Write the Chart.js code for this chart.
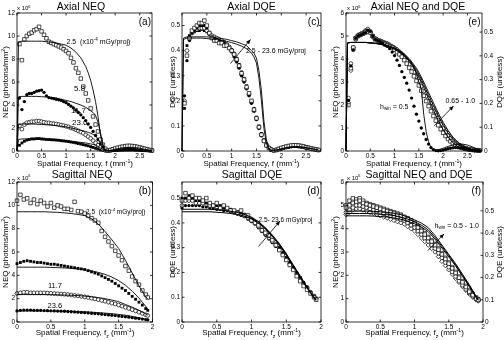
<!DOCTYPE html>
<html><head><meta charset="utf-8">
<style>
html,body{margin:0;padding:0;background:#fff;}
#wrap{position:relative;width:504px;height:340px;overflow:hidden;background:#fff;}
#wrap canvas{position:absolute;left:0;top:0;}
</style>
<script src="https://cdn.jsdelivr.net/npm/chart.js@4.4.0/dist/chart.umd.min.js"></script>
</head><body>
<div id="wrap">
<canvas id="pa" width="504" height="340"></canvas>
<canvas id="pc" width="504" height="340"></canvas>
<canvas id="pe" width="504" height="340"></canvas>
<canvas id="pb" width="504" height="340"></canvas>
<canvas id="pd" width="504" height="340"></canvas>
<canvas id="pf" width="504" height="340"></canvas>
</div>
<script>
// ---------- DATA ----------
// Axial frequencies for measured points (mm^-1)
const fAx = [0.05,0.1,0.15,0.2,0.25,0.3,0.35,0.4,0.45,0.5,0.55,0.6,0.65,0.7,0.75,0.8,0.85,0.9,0.95,1,1.05,1.1,1.15,1.2,1.25,1.3,1.35,1.4,1.45,1.5,1.55,1.6,1.65,1.7,1.75,1.8,1.85,1.9,1.95,2,2.05,2.1,2.15,2.2,2.25,2.3,2.35,2.4,2.45,2.5,2.55,2.6,2.65,2.7,2.75];
// Axial frequencies for theory curves
const fAxLine = [0,0.03,0.1,0.2,0.3,0.4,0.5,0.6,0.7,0.8,0.9,1,1.1,1.2,1.3,1.4,1.45,1.5,1.55,1.6,1.65,1.7,1.75,1.8,1.9,2,2.1,2.2,2.3,2.4,2.5,2.6,2.7,2.75];
// Sagittal frequencies
const fSag = [0,0.05,0.1,0.15,0.2,0.25,0.3,0.35,0.4,0.45,0.5,0.55,0.6,0.65,0.7,0.75,0.8,0.85,0.9,0.95,1,1.05,1.1,1.15,1.2,1.25,1.3,1.35,1.4,1.45,1.5,1.55,1.6,1.65,1.7,1.75,1.8,1.85,1.9,1.93];
const fSagLine = [0,0.1,0.2,0.3,0.4,0.5,0.6,0.7,0.8,0.9,1,1.1,1.2,1.3,1.4,1.5,1.6,1.7,1.8,1.9,1.93];

const doseLabels = ['2.5','5.8','11.7','23.6'];
const hwinLabels = ['0.5','0.65','0.8','1.0'];

// (a) Axial NEQ (x10^6 photons/mm^2)
const aNEQ25 = [9.3,7.9,9.7,10.0,10.2,10.3,10.5,10.6,10.8,10.4, 10.1,9.8,9.5,9.4,9.3,9.2,9.1,9.0,8.85,8.7, 8.5,8.1,7.7,7.2,6.8,6.3,5.6,5.0,4.4,3.7, 3.0,2.3,1.7,1.0,0.55,0.2,0.05,0.08,0.15,0.22, 0.28,0.34,0.38,0.42,0.45,0.45,0.43,0.4,0.36,0.31, 0.26,0.2,0.14,0.09,0.05];
const aNEQ58 = [4.6,3.6,4.3,4.9,5.0,5.0,5.1,5.2,5.25,5.3, 5.1,4.8,4.65,4.6,4.55,4.5,4.45,4.4,4.3,4.2, 4.05,3.9,3.75,3.55,3.35,3.15,2.9,2.65,2.35,2.05, 1.7,1.35,1.0,0.65,0.35,0.12,0.03,0.04,0.06,0.08, 0.1,0.12,0.14,0.16,0.17,0.17,0.16,0.15,0.13,0.11, 0.09,0.07,0.05,0.04,0.02];
const aNEQ117 = [2.2,1.9,2.3,2.45,2.5,2.55,2.55,2.6,2.6,2.55, 2.5,2.45,2.45,2.4,2.38,2.35,2.3,2.25,2.2,2.15, 2.1,2.0,1.95,1.85,1.75,1.65,1.55,1.4,1.25,1.1, 0.9,0.7,0.5,0.32,0.15,0.05,0.02,0.06,0.12,0.18, 0.23,0.28,0.32,0.35,0.37,0.37,0.36,0.34,0.31,0.27, 0.22,0.17,0.12,0.08,0.04];
const aNEQ236 = [0.5,0.7,0.85,0.95,1.0,1.05,1.05,1.08,1.08,1.05, 1.03,1.0,1.0,0.98,0.97,0.95,0.93,0.9,0.88,0.85, 0.82,0.78,0.75,0.7,0.65,0.6,0.55,0.5,0.45,0.38, 0.31,0.24,0.17,0.1,0.05,0.02,0.01,0.02,0.03,0.04, 0.05,0.06,0.07,0.08,0.08,0.08,0.08,0.07,0.06,0.05, 0.04,0.03,0.02,0.01,0.01];
const aTh25 = [0,9.5,9.55,9.55,9.55,9.55,9.55,9.5,9.45,9.4, 9.3,9.2,8.95,8.6,8.1,7.35,6.8,6.15,5.3,4.3, 3.0,1.4,0.4,0.05,0.05,0.15,0.25,0.3,0.32,0.3, 0.25,0.15,0.08,0.05];
const aTh58 = [0,4.7,4.75,4.75,4.75,4.75,4.72,4.7,4.65,4.6, 4.5,4.4,4.3,4.15,4.0,3.8,3.65,3.5,3.35,3.1, 2.5,1.6,0.6,0.1,0.03,0.08,0.13,0.16,0.17,0.16, 0.13,0.08,0.04,0.02];
const aTh117 = [0,2.3,2.35,2.35,2.35,2.33,2.3,2.28,2.25,2.2, 2.15,2.1,2.0,1.9,1.8,1.7,1.62,1.55,1.45,1.3, 1.05,0.7,0.3,0.05,0.02,0.05,0.08,0.1,0.1,0.1, 0.08,0.05,0.03,0.01];
const aTh236 = [0,1.0,1.05,1.05,1.05,1.03,1.02,1.0,0.98,0.95, 0.92,0.88,0.84,0.8,0.75,0.7,0.66,0.62,0.57,0.5, 0.4,0.27,0.12,0.02,0.01,0.02,0.04,0.05,0.05,0.05, 0.04,0.02,0.01,0];

// (c) Axial DQE
const cDQE25 = [0.19,0.38,0.45,0.48,0.49,0.5,0.51,0.51,0.52,0.5, 0.47,0.45,0.44,0.44,0.43,0.43,0.42,0.42,0.41,0.4, 0.385,0.365,0.34,0.31,0.285,0.255,0.23,0.2,0.165,0.13, 0.095,0.065,0.04,0.022,0.012,0.005,0.002,0.004,0.008,0.012, 0.015,0.018,0.02,0.022,0.023,0.023,0.022,0.02,0.018,0.015, 0.013,0.01,0.008,0.006,0.004];
const cDQE58 = [0.22,0.36,0.44,0.47,0.48,0.49,0.5,0.5,0.5,0.49, 0.47,0.455,0.45,0.445,0.44,0.435,0.43,0.42,0.41,0.395, 0.375,0.355,0.33,0.3,0.275,0.25,0.22,0.19,0.16,0.125, 0.09,0.06,0.038,0.02,0.01,0.004,0.002,0.004,0.006,0.009, 0.012,0.014,0.016,0.018,0.019,0.019,0.018,0.017,0.015,0.013, 0.011,0.009,0.007,0.005,0.003];
const cDQE117 = [0.2,0.4,0.45,0.47,0.48,0.485,0.49,0.49,0.49,0.48, 0.47,0.46,0.455,0.45,0.445,0.44,0.43,0.425,0.415,0.4, 0.385,0.36,0.335,0.305,0.28,0.25,0.225,0.195,0.16,0.13, 0.095,0.065,0.042,0.025,0.013,0.006,0.003,0.005,0.008,0.011, 0.014,0.016,0.018,0.02,0.021,0.021,0.02,0.019,0.017,0.015, 0.012,0.01,0.008,0.006,0.004];
const cDQE236 = [0.17,0.42,0.46,0.47,0.475,0.48,0.48,0.485,0.48,0.475, 0.465,0.46,0.455,0.45,0.445,0.44,0.435,0.425,0.415,0.405, 0.39,0.37,0.345,0.315,0.29,0.26,0.23,0.2,0.17,0.135, 0.1,0.07,0.045,0.027,0.014,0.006,0.003,0.004,0.007,0.01, 0.012,0.014,0.016,0.017,0.018,0.018,0.017,0.016,0.014,0.012, 0.01,0.008,0.006,0.004,0.003];
const cTh1 = [0,0.45,0.455,0.455,0.455,0.455,0.455,0.453,0.451,0.448, 0.445,0.44,0.435,0.428,0.42,0.4,0.39,0.37,0.32,0.24, 0.12,0.045,0.01,0.003,0.004,0.009,0.014,0.017,0.018,0.017, 0.014,0.01,0.006,0.004];
const cTh2 = [0,0.445,0.45,0.45,0.45,0.45,0.448,0.446,0.444,0.441, 0.437,0.432,0.426,0.418,0.408,0.39,0.375,0.35,0.29,0.2, 0.09,0.03,0.006,0.002,0.004,0.008,0.012,0.015,0.016,0.015, 0.012,0.009,0.005,0.003];

// (e) Axial NEQ vs h_win (x10^6)
const eNEQ05 = [2.2,3.7,4.4,4.9,5.0,5.05,5.1,5.15,5.25,5.2, 5.0,4.85,4.8,4.75,4.7,4.6,4.55,4.45,4.3,4.15, 3.95,3.72,3.45,3.2,2.95,2.65,2.3,1.95,1.6,1.3, 1.0,0.75,0.5,0.3,0.15,0.06,0.02,0.01,0.02,0.04, 0.07,0.1,0.12,0.14,0.15,0.15,0.14,0.12,0.1,0.08, 0.06,0.04,0.03,0.02,0.01];
const eNEQ065 = [2.0,3.6,4.5,4.9,5.0,5.05,5.1,5.15,5.2,5.15, 5.0,4.85,4.8,4.75,4.7,4.65,4.6,4.55,4.5,4.4, 4.3,4.2,4.1,3.95,3.8,3.62,3.45,3.25,3.05,2.85, 2.62,2.4,2.17,1.95,1.73,1.52,1.32,1.12,0.95,0.79, 0.65,0.52,0.42,0.33,0.26,0.2,0.16,0.13,0.1,0.08, 0.06,0.05,0.04,0.03,0.02];
const eNEQ08 = [2.3,3.8,4.4,4.85,5.0,5.05,5.1,5.2,5.3,5.2, 5.0,4.9,4.82,4.78,4.72,4.68,4.64,4.58,4.52,4.45, 4.36,4.27,4.17,4.05,3.92,3.76,3.6,3.42,3.23,3.03, 2.82,2.6,2.38,2.16,1.95,1.74,1.54,1.34,1.16,0.98, 0.82,0.68,0.55,0.44,0.35,0.27,0.21,0.16,0.12,0.09, 0.07,0.05,0.04,0.03,0.02];
const eNEQ10 = [2.1,3.5,4.5,4.95,5.05,5.1,5.15,5.25,5.25,5.15, 4.95,4.88,4.84,4.8,4.76,4.72,4.68,4.62,4.56,4.5, 4.42,4.33,4.23,4.12,4.0,3.85,3.7,3.52,3.34,3.15, 2.94,2.73,2.51,2.29,2.08,1.87,1.66,1.46,1.27,1.09, 0.92,0.77,0.63,0.51,0.41,0.32,0.25,0.19,0.14,0.1, 0.07,0.05,0.04,0.03,0.02];
const eTh05 = [0,4.7,4.72,4.72,4.72,4.72,4.7,4.68,4.65,4.6, 4.52,4.42,4.3,4.15,3.95,3.65,3.35,3.0,2.7,1.6, 0.85,0.4,0.15,0.05,0.05,0.12,0.2,0.26,0.3,0.3, 0.26,0.18,0.08,0.03];
const eTh065 = [0,4.7,4.72,4.72,4.72,4.72,4.7,4.68,4.65,4.6, 4.53,4.43,4.3,4.13,3.9,3.6,3.43,3.23,3.01,2.77, 2.52,2.27,2.02,1.78,1.32,0.93,0.6,0.36,0.2,0.1, 0.05,0.02,0.01,0];
const eTh08 = [0,4.7,4.72,4.72,4.72,4.72,4.7,4.68,4.65,4.61, 4.55,4.46,4.34,4.18,3.97,3.69,3.53,3.34,3.13,2.9, 2.67,2.43,2.2,1.97,1.52,1.12,0.78,0.5,0.3,0.17, 0.09,0.04,0.02,0.01];
const eTh10 = [0,4.7,4.72,4.72,4.72,4.72,4.7,4.68,4.65,4.62, 4.56,4.48,4.37,4.22,4.02,3.75,3.6,3.42,3.22,3.0, 2.78,2.55,2.32,2.1,1.65,1.25,0.9,0.6,0.38,0.22, 0.12,0.06,0.03,0.01];

// (b) Sagittal NEQ (x10^6)
const bNEQ25 = [10.4,10.9,10.5,10.6,10.2,10.5,10.1,10.4,10.2,9.9, 10.2,9.8,10.0,9.9,9.7,9.7,9.6,10.3,9.5,9.45, 9.3,9.1,8.9,8.7,8.5,7.8,7.3,6.9,6.5,6.1, 5.7,5.3,4.8,4.4,3.9,3.5,3.2,2.7,2.35,2.1];
const bNEQ58 = [5.0,5.1,5.2,5.25,5.2,5.15,5.1,5.1,5.05,5.0, 4.95,4.95,4.9,4.85,4.8,4.75,4.7,4.65,4.6,4.55, 4.5,4.4,4.3,4.2,4.1,3.95,3.8,3.65,3.5,3.3, 3.1,2.9,2.7,2.45,2.2,1.95,1.7,1.45,1.15,1.0];
const bNEQ117 = [2.45,2.5,2.55,2.55,2.5,2.5,2.5,2.5,2.5,2.48, 2.46,2.44,2.42,2.4,2.38,2.35,2.32,2.28,2.24,2.2, 2.15,2.1,2.04,1.98,1.92,1.85,1.78,1.7,1.62,1.54, 1.45,1.36,1.26,1.16,1.06,0.95,0.84,0.73,0.62,0.55];
const bNEQ236 = [0.95,1.0,1.02,1.02,1.02,1.0,1.0,1.0,0.98,0.97, 0.96,0.95,0.94,0.93,0.92,0.9,0.88,0.86,0.84,0.82, 0.8,0.78,0.75,0.73,0.7,0.67,0.64,0.61,0.58,0.55, 0.51,0.48,0.44,0.41,0.37,0.33,0.29,0.25,0.21,0.19];
const bTh25 = [9.45,9.45,9.45,9.45,9.45,9.42,9.4,9.35,9.3,9.22, 9.12,8.85,8.4,7.75,7.05,6.3,5.3,4.2,3.1,2.15, 1.95];
const bTh58 = [4.7,4.7,4.7,4.7,4.7,4.68,4.66,4.63,4.6,4.55, 4.48,4.38,4.25,4.08,3.85,3.55,3.15,2.65,2.05,1.35, 1.1];
const bTh117 = [2.35,2.35,2.35,2.35,2.35,2.34,2.33,2.31,2.29,2.26, 2.22,2.16,2.09,2.0,1.88,1.74,1.5,1.27,1.0,0.7, 0.6];
const bTh236 = [0.95,0.95,0.95,0.95,0.95,0.94,0.93,0.92,0.91,0.89, 0.87,0.84,0.8,0.76,0.71,0.65,0.58,0.48,0.36,0.24, 0.2];

// (d) Sagittal DQE
const dDQE25 = [0.49,0.52,0.5,0.51,0.5,0.5,0.49,0.5,0.48,0.47, 0.48,0.46,0.47,0.46,0.45,0.45,0.44,0.45,0.43,0.43, 0.41,0.4,0.39,0.37,0.36,0.35,0.33,0.31,0.29,0.27, 0.25,0.23,0.21,0.185,0.165,0.145,0.13,0.115,0.1,0.09];
const dDQE58 = [0.5,0.5,0.51,0.5,0.49,0.49,0.49,0.48,0.48,0.47, 0.47,0.47,0.46,0.46,0.455,0.45,0.445,0.44,0.435,0.425, 0.415,0.405,0.39,0.375,0.36,0.345,0.33,0.315,0.3,0.28, 0.26,0.24,0.22,0.2,0.18,0.16,0.14,0.12,0.105,0.095];
const dDQE117 = [0.47,0.49,0.49,0.49,0.48,0.48,0.48,0.475,0.47,0.47, 0.465,0.46,0.46,0.455,0.45,0.445,0.44,0.435,0.43,0.42, 0.41,0.4,0.385,0.37,0.355,0.34,0.325,0.31,0.295,0.275, 0.255,0.235,0.215,0.195,0.175,0.155,0.14,0.12,0.105,0.095];
const dDQE236 = [0.46,0.47,0.47,0.47,0.47,0.47,0.465,0.465,0.46,0.46, 0.455,0.455,0.45,0.45,0.445,0.44,0.435,0.43,0.425,0.415, 0.405,0.395,0.38,0.365,0.35,0.335,0.32,0.305,0.29,0.27, 0.25,0.23,0.21,0.19,0.17,0.15,0.135,0.115,0.1,0.09];
const dTh1 = [0.455,0.455,0.455,0.455,0.455,0.453,0.45,0.447,0.442,0.434, 0.423,0.405,0.38,0.35,0.315,0.275,0.23,0.185,0.14,0.1, 0.09];
const dTh2 = [0.445,0.445,0.445,0.445,0.445,0.443,0.441,0.438,0.434,0.427, 0.417,0.4,0.376,0.346,0.311,0.271,0.226,0.181,0.137,0.097, 0.087];

// (f) Sagittal NEQ vs h_win (x10^6)
const fNEQ05 = [4.9,5.0,5.1,5.15,5.2,5.1,5.05,5.0,4.95,4.9, 4.85,4.8,4.75,4.7,4.65,4.6,4.55,4.5,4.4,4.3, 4.2,4.05,3.9,3.75,3.6,3.45,3.3,3.1,2.9,2.7, 2.5,2.3,2.1,1.9,1.7,1.5,1.3,1.15,1.0,0.95];
const fNEQ065 = [4.7,4.8,4.9,5.0,5.0,4.95,4.9,4.85,4.8,4.75, 4.7,4.65,4.6,4.55,4.5,4.45,4.4,4.35,4.25,4.15, 4.05,3.9,3.75,3.6,3.45,3.3,3.15,2.95,2.75,2.55, 2.35,2.15,1.95,1.75,1.58,1.4,1.25,1.1,0.98,0.92];
const fNEQ08 = [5.0,5.2,5.3,5.25,5.3,5.2,5.1,5.05,5.0,4.95, 4.9,4.85,4.8,4.75,4.7,4.65,4.6,4.5,4.45,4.35, 4.25,4.1,3.95,3.8,3.65,3.5,3.35,3.15,2.95,2.75, 2.55,2.35,2.15,1.95,1.75,1.55,1.35,1.2,1.05,0.98];
const fNEQ10 = [4.6,4.7,4.8,4.85,4.85,4.8,4.75,4.7,4.65,4.6, 4.55,4.5,4.45,4.4,4.35,4.3,4.25,4.2,4.1,4.0, 3.9,3.75,3.6,3.45,3.3,3.15,3.0,2.8,2.6,2.42, 2.24,2.05,1.87,1.7,1.52,1.36,1.2,1.07,0.95,0.9];
const fTh1 = [4.75,4.75,4.75,4.75,4.74,4.72,4.7,4.66,4.6,4.5, 4.38,4.24,4.05,3.7,3.3,2.9,2.5,2.05,1.6,1.1, 0.98];
const fTh2 = [4.65,4.65,4.65,4.65,4.64,4.62,4.6,4.56,4.5,4.41, 4.3,4.15,3.95,3.62,3.24,2.85,2.45,2.0,1.55,1.07, 0.95];
const fTh3 = [4.55,4.55,4.55,4.55,4.54,4.52,4.5,4.46,4.4,4.32, 4.21,4.07,3.87,3.55,3.17,2.79,2.4,1.96,1.52,1.05, 0.93];

// ---------- RENDERING ----------
const FONT = '"Liberation Sans", Arial, Helvetica, sans-serif';
const fmt = v => String(Math.round(v * 1000) / 1000);
const pts = (xs, ys) => xs.map((x, i) => ({x: x, y: ys[i]}));
const STY = {
  osq:   {pointStyle:'rect', pointRadius:2.5, pointBackgroundColor:'#fff', pointBorderColor:'#000', pointBorderWidth:0.7},
  dot:   {pointStyle:'circle', pointRadius:1.65, pointBackgroundColor:'#000', pointBorderColor:'#000', pointBorderWidth:0},
  ocirc: {pointStyle:'circle', pointRadius:1.9, pointBackgroundColor:'#fff', pointBorderColor:'#000', pointBorderWidth:0.7},
  fsq:   {pointStyle:'rect', pointRadius:2.0, pointBackgroundColor:'#000', pointBorderColor:'#000', pointBorderWidth:0},
  odia:  {pointStyle:'rectRot', pointRadius:2.2, pointBackgroundColor:'#fff', pointBorderColor:'#000', pointBorderWidth:0.7}
};
function mk(label, xs, ys, st) {
  return Object.assign({label: label, data: pts(xs, ys), showLine:false, clip:false, borderColor:'#000'}, STY[st]);
}
function ln(label, xs, ys, w) {
  return {label: label, data: pts(xs, ys), showLine:true, pointRadius:0, borderColor:'#000', borderWidth: w || 0.9, clip:false, tension:0};
}

function drawRich(ctx, segs, x, y, size, align) {
  let total = 0;
  segs.forEach(s => { ctx.font = (s[1] ? size * 0.65 : size) + 'px ' + FONT; total += ctx.measureText(s[0]).width; });
  let cx = align === 'center' ? x - total / 2 : (align === 'right' ? x - total : x);
  ctx.textAlign = 'left'; ctx.textBaseline = 'alphabetic';
  const base = y + size * 0.36;
  segs.forEach(s => {
    const k = s[1], sz = k ? size * 0.65 : size;
    ctx.font = sz + 'px ' + FONT;
    const dy = k === 'sup' ? -size * 0.42 : (k === 'sub' ? size * 0.28 : 0);
    ctx.fillText(s[0], cx, base + dy);
    cx += ctx.measureText(s[0]).width;
  });
}
function arrow(ctx, x1, y1, x2, y2) {
  ctx.beginPath(); ctx.moveTo(x1, y1); ctx.lineTo(x2, y2); ctx.lineWidth = 0.8; ctx.stroke();
  const ang = Math.atan2(y2 - y1, x2 - x1), L = 4.5, W = 2;
  ctx.beginPath(); ctx.moveTo(x2, y2);
  ctx.lineTo(x2 - L * Math.cos(ang) + W * Math.sin(ang), y2 - L * Math.sin(ang) - W * Math.cos(ang));
  ctx.lineTo(x2 - L * Math.cos(ang) - W * Math.sin(ang), y2 - L * Math.sin(ang) + W * Math.cos(ang));
  ctx.closePath(); ctx.fill();
}

const decor = {
  id: 'decor',
  afterDatasetsDraw(chart, args, o) {
    const ctx = chart.ctx, a = chart.chartArea;
    const xs = chart.scales.x, ys = chart.scales.y, y2 = chart.scales.y2;
    ctx.save();
    ctx.strokeStyle = '#000'; ctx.fillStyle = '#000'; ctx.lineWidth = 0.8;
    ctx.strokeRect(a.left, a.top, a.right - a.left, a.bottom - a.top);
    const tl = 2.5;
    ctx.beginPath();
    xs.ticks.forEach(t => { const p = xs.getPixelForValue(t.value);
      ctx.moveTo(p, a.bottom); ctx.lineTo(p, a.bottom - tl); ctx.moveTo(p, a.top); ctx.lineTo(p, a.top + tl); });
    ys.ticks.forEach(t => { const p = ys.getPixelForValue(t.value);
      ctx.moveTo(a.left, p); ctx.lineTo(a.left + tl, p);
      if (!y2) { ctx.moveTo(a.right, p); ctx.lineTo(a.right - tl, p); } });
    if (y2) y2.ticks.forEach(t => { const p = y2.getPixelForValue(t.value); ctx.moveTo(a.right, p); ctx.lineTo(a.right - tl, p); });
    ctx.stroke();
    (o.texts || []).forEach(t => drawRich(ctx, t.s, t.x, t.y, t.size, t.align || 'left'));
    (o.vtexts || []).forEach(t => { ctx.save(); ctx.translate(t.x, t.y); ctx.rotate(-Math.PI / 2); drawRich(ctx, t.s, 0, 0, t.size, 'center'); ctx.restore(); });
    (o.arrows || []).forEach(r => arrow(ctx, r[0], r[1], r[2], r[3]));
    ctx.restore();
  }
};

const YW = 14, XH = 10;   // box sizes of tick-label areas
function axisOpts(min, max, step, isX, pos) {
  const o = {
    type:'linear', min:min, max:max,
    grid:{display:false, drawTicks:false}, border:{display:false},
    ticks:{stepSize:step, includeBounds:false, autoSkip:false, maxRotation:0, color:'#000',
      padding: isX ? 1.5 : 2, font:{family:FONT, size:6.5}, callback: v => fmt(v)}
  };
  if (isX) o.afterFit = s => { s.height = XH; };
  else { o.afterFit = s => { s.width = YW; }; o.position = pos || 'left'; }
  return o;
}

function panel(id, P) {
  const scales = { x: axisOpts(P.x[0], P.x[1], P.x[2], true), y: axisOpts(P.y[0], P.y[1], P.y[2], false, 'left') };
  if (P.y2) {
    scales.y2 = axisOpts(P.y2[0], P.y2[1], P.y2[2], false, 'right');
    scales.y2.afterBuildTicks = s => { s.ticks = s.ticks.filter(t => t.value <= 0.5001); };
  }
  new Chart(document.getElementById(id), {
    type:'scatter',
    data:{datasets:P.ds},
    options:{
      responsive:false, animation:false, events:[],
      layout:{padding:{left:P.a[0] - YW, top:P.a[1], right:504 - P.a[2] - (P.y2 ? YW : 0), bottom:340 - P.a[3] - XH}},
      plugins:{legend:{display:false}, tooltip:{enabled:false}, title:{display:false}, decor:P.deco},
      scales: scales
    },
    plugins:[decor]
  });
}

const xTitleAx = [['Spatial Frequency, f (mm',''],['-1','sup'],[')','']];
const xTitleSag = [['Spatial Frequency, f',''],['z','sub'],[' (mm',''],['-1','sup'],[')','']];
const neqTitle = [['NEQ (photons/mm',''],['2','sup'],[')','']];
const dqeTitle = [['DQE (unitless)','']];
const expLbl = [['x 10',''],['6','sup']];
const doseNote = [['2.5  (x10',''],['-4','sup'],[' mGy/proj)','']];

// (a)
panel('pa', {
  a:[17,13,152,151], x:[0,2.75,0.5], y:[0,12,2],
  ds:[ln('th '+doseLabels[0], fAxLine, aTh25), ln('th '+doseLabels[1], fAxLine, aTh58), ln('th '+doseLabels[2], fAxLine, aTh117), ln('th '+doseLabels[3], fAxLine, aTh236),
      mk(doseLabels[0], fAx, aNEQ25, 'osq'), mk(doseLabels[1], fAx, aNEQ58, 'dot'), mk(doseLabels[2], fAx, aNEQ117, 'ocirc'), mk(doseLabels[3], fAx, aNEQ236, 'fsq')],
  deco:{texts:[
    {s:[['Axial NEQ','']], x:81, y:6, size:10.5, align:'center'},
    {s:expLbl, x:17, y:8, size:6},
    {s:[['(a)','']], x:151, y:21.5, size:10, align:'right'},
    {s:doseNote, x:66.5, y:41, size:7},
    {s:[['5.8','']], x:74, y:88.5, size:8},
    {s:[['11.7','']], x:71, y:110, size:8},
    {s:[['23.6','']], x:72, y:122.5, size:8},
    {s:xTitleAx, x:85, y:163.5, size:8, align:'center'}],
    vtexts:[{s:neqTitle, x:5, y:82, size:8}]}
});
// (c)
panel('pc', {
  a:[182,13,321,151], x:[0,2.8,0.5], y:[0,0.55,0.1],
  ds:[ln('th1', fAxLine, cTh1), ln('th2', fAxLine, cTh2),
      mk(doseLabels[0], fAx, cDQE25, 'osq'), mk(doseLabels[1], fAx, cDQE58, 'dot'), mk(doseLabels[2], fAx, cDQE117, 'ocirc'), mk(doseLabels[3], fAx, cDQE236, 'fsq')],
  deco:{texts:[
    {s:[['Axial DQE','']], x:251.5, y:6, size:10.5, align:'center'},
    {s:[['(c)','']], x:319.5, y:21.5, size:10, align:'right'},
    {s:[['2.5 - 23.6 mGy/proj','']], x:246, y:50.5, size:7},
    {s:xTitleAx, x:251.5, y:163.5, size:8, align:'center'}],
    vtexts:[{s:dqeTitle, x:172, y:82, size:8}],
    arrows:[[230.5,63.5,250.5,39.5]]}
});
// (e)
panel('pe', {
  a:[346,13,482,151], x:[0,2.8,0.5], y:[0,6,1], y2:[0,0.58,0.1],
  ds:[ln('th '+hwinLabels[0], fAxLine, eTh05), ln('th '+hwinLabels[1], fAxLine, eTh065), ln('th '+hwinLabels[2], fAxLine, eTh08), ln('th '+hwinLabels[3], fAxLine, eTh10),
      mk(hwinLabels[0], fAx, eNEQ05, 'dot'), mk(hwinLabels[1], fAx, eNEQ065, 'osq'), mk(hwinLabels[2], fAx, eNEQ08, 'ocirc'), mk(hwinLabels[3], fAx, eNEQ10, 'odia')],
  deco:{texts:[
    {s:[['Axial NEQ and DQE','']], x:418, y:6, size:10.5, align:'center'},
    {s:expLbl, x:347, y:8, size:6},
    {s:[['(e)','']], x:480.5, y:21.5, size:10, align:'right'},
    {s:[['h',''],['win','sub'],[' = 0.5','']], x:380, y:106, size:7},
    {s:[['0.65 - 1.0','']], x:445.5, y:100, size:7},
    {s:xTitleAx, x:414, y:163.5, size:8, align:'center'}],
    vtexts:[{s:neqTitle, x:335, y:82, size:8}, {s:dqeTitle, x:499, y:82, size:8}],
    arrows:[[434,126,453.5,106]]}
});
// (b)
panel('pb', {
  a:[17,182,152.5,322], x:[0,2,0.5], y:[0,12,2],
  ds:[ln('th '+doseLabels[0], fSagLine, bTh25), ln('th '+doseLabels[1], fSagLine, bTh58), ln('th '+doseLabels[2], fSagLine, bTh117), ln('th '+doseLabels[3], fSagLine, bTh236),
      mk(doseLabels[0], fSag, bNEQ25, 'osq'), mk(doseLabels[1], fSag, bNEQ58, 'fsq'), mk(doseLabels[2], fSag, bNEQ117, 'ocirc'), mk(doseLabels[3], fSag, bNEQ236, 'dot')],
  deco:{texts:[
    {s:[['Sagittal NEQ','']], x:82, y:174.5, size:10.5, align:'center'},
    {s:expLbl, x:17, y:177.5, size:6},
    {s:[['(b)','']], x:151, y:190.5, size:10, align:'right'},
    {s:doseNote, x:86, y:211.5, size:6.5},
    {s:[['11.7','']], x:48, y:285.5, size:7.5},
    {s:[['23.6','']], x:47.5, y:305, size:7.5},
    {s:xTitleSag, x:85, y:332.5, size:8, align:'center'}],
    vtexts:[{s:neqTitle, x:5, y:252, size:8}]}
});
// (d)
panel('pd', {
  a:[182,182,321,322], x:[0,2,0.5], y:[0,0.565,0.1],
  ds:[ln('th1', fSagLine, dTh1, 1.1), ln('th2', fSagLine, dTh2, 1.1),
      mk(doseLabels[0], fSag, dDQE25, 'osq'), mk(doseLabels[1], fSag, dDQE58, 'fsq'), mk(doseLabels[2], fSag, dDQE117, 'ocirc'), mk(doseLabels[3], fSag, dDQE236, 'dot')],
  deco:{texts:[
    {s:[['Sagittal DQE','']], x:252, y:174.5, size:10.5, align:'center'},
    {s:[['(d)','']], x:319.5, y:190.5, size:10, align:'right'},
    {s:[['2.5- 23.6 mGy/proj','']], x:258.5, y:220, size:6.5},
    {s:xTitleSag, x:251.5, y:332.5, size:8, align:'center'}],
    vtexts:[{s:dqeTitle, x:172, y:252, size:8}],
    arrows:[[258.5,246.5,280,221]]}
});
// (f)
panel('pf', {
  a:[346,182,483,322], x:[0,2,0.5], y:[0,6,1], y2:[0,0.63,0.1],
  ds:[ln('th a', fSagLine, fTh1, 1.0), ln('th b', fSagLine, fTh2, 1.0), ln('th c', fSagLine, fTh3, 1.0),
      mk(hwinLabels[0], fSag, fNEQ05, 'osq'), mk(hwinLabels[1], fSag, fNEQ065, 'ocirc'), mk(hwinLabels[2], fSag, fNEQ08, 'osq'), mk(hwinLabels[3], fSag, fNEQ10, 'odia')],
  deco:{texts:[
    {s:[['Sagittal NEQ and DQE','']], x:419, y:174.5, size:10.5, align:'center'},
    {s:expLbl, x:347, y:177.5, size:6},
    {s:[['(f)','']], x:481, y:190.5, size:10, align:'right'},
    {s:[['h',''],['win','sub'],[' = 0.5 - 1.0','']], x:434.5, y:225, size:7},
    {s:xTitleSag, x:414.5, y:332.5, size:8, align:'center'}],
    vtexts:[{s:neqTitle, x:335, y:252, size:8}, {s:dqeTitle, x:499, y:252, size:8}],
    arrows:[[428,250.5,444,234]]}
});
</script>
</body></html>
